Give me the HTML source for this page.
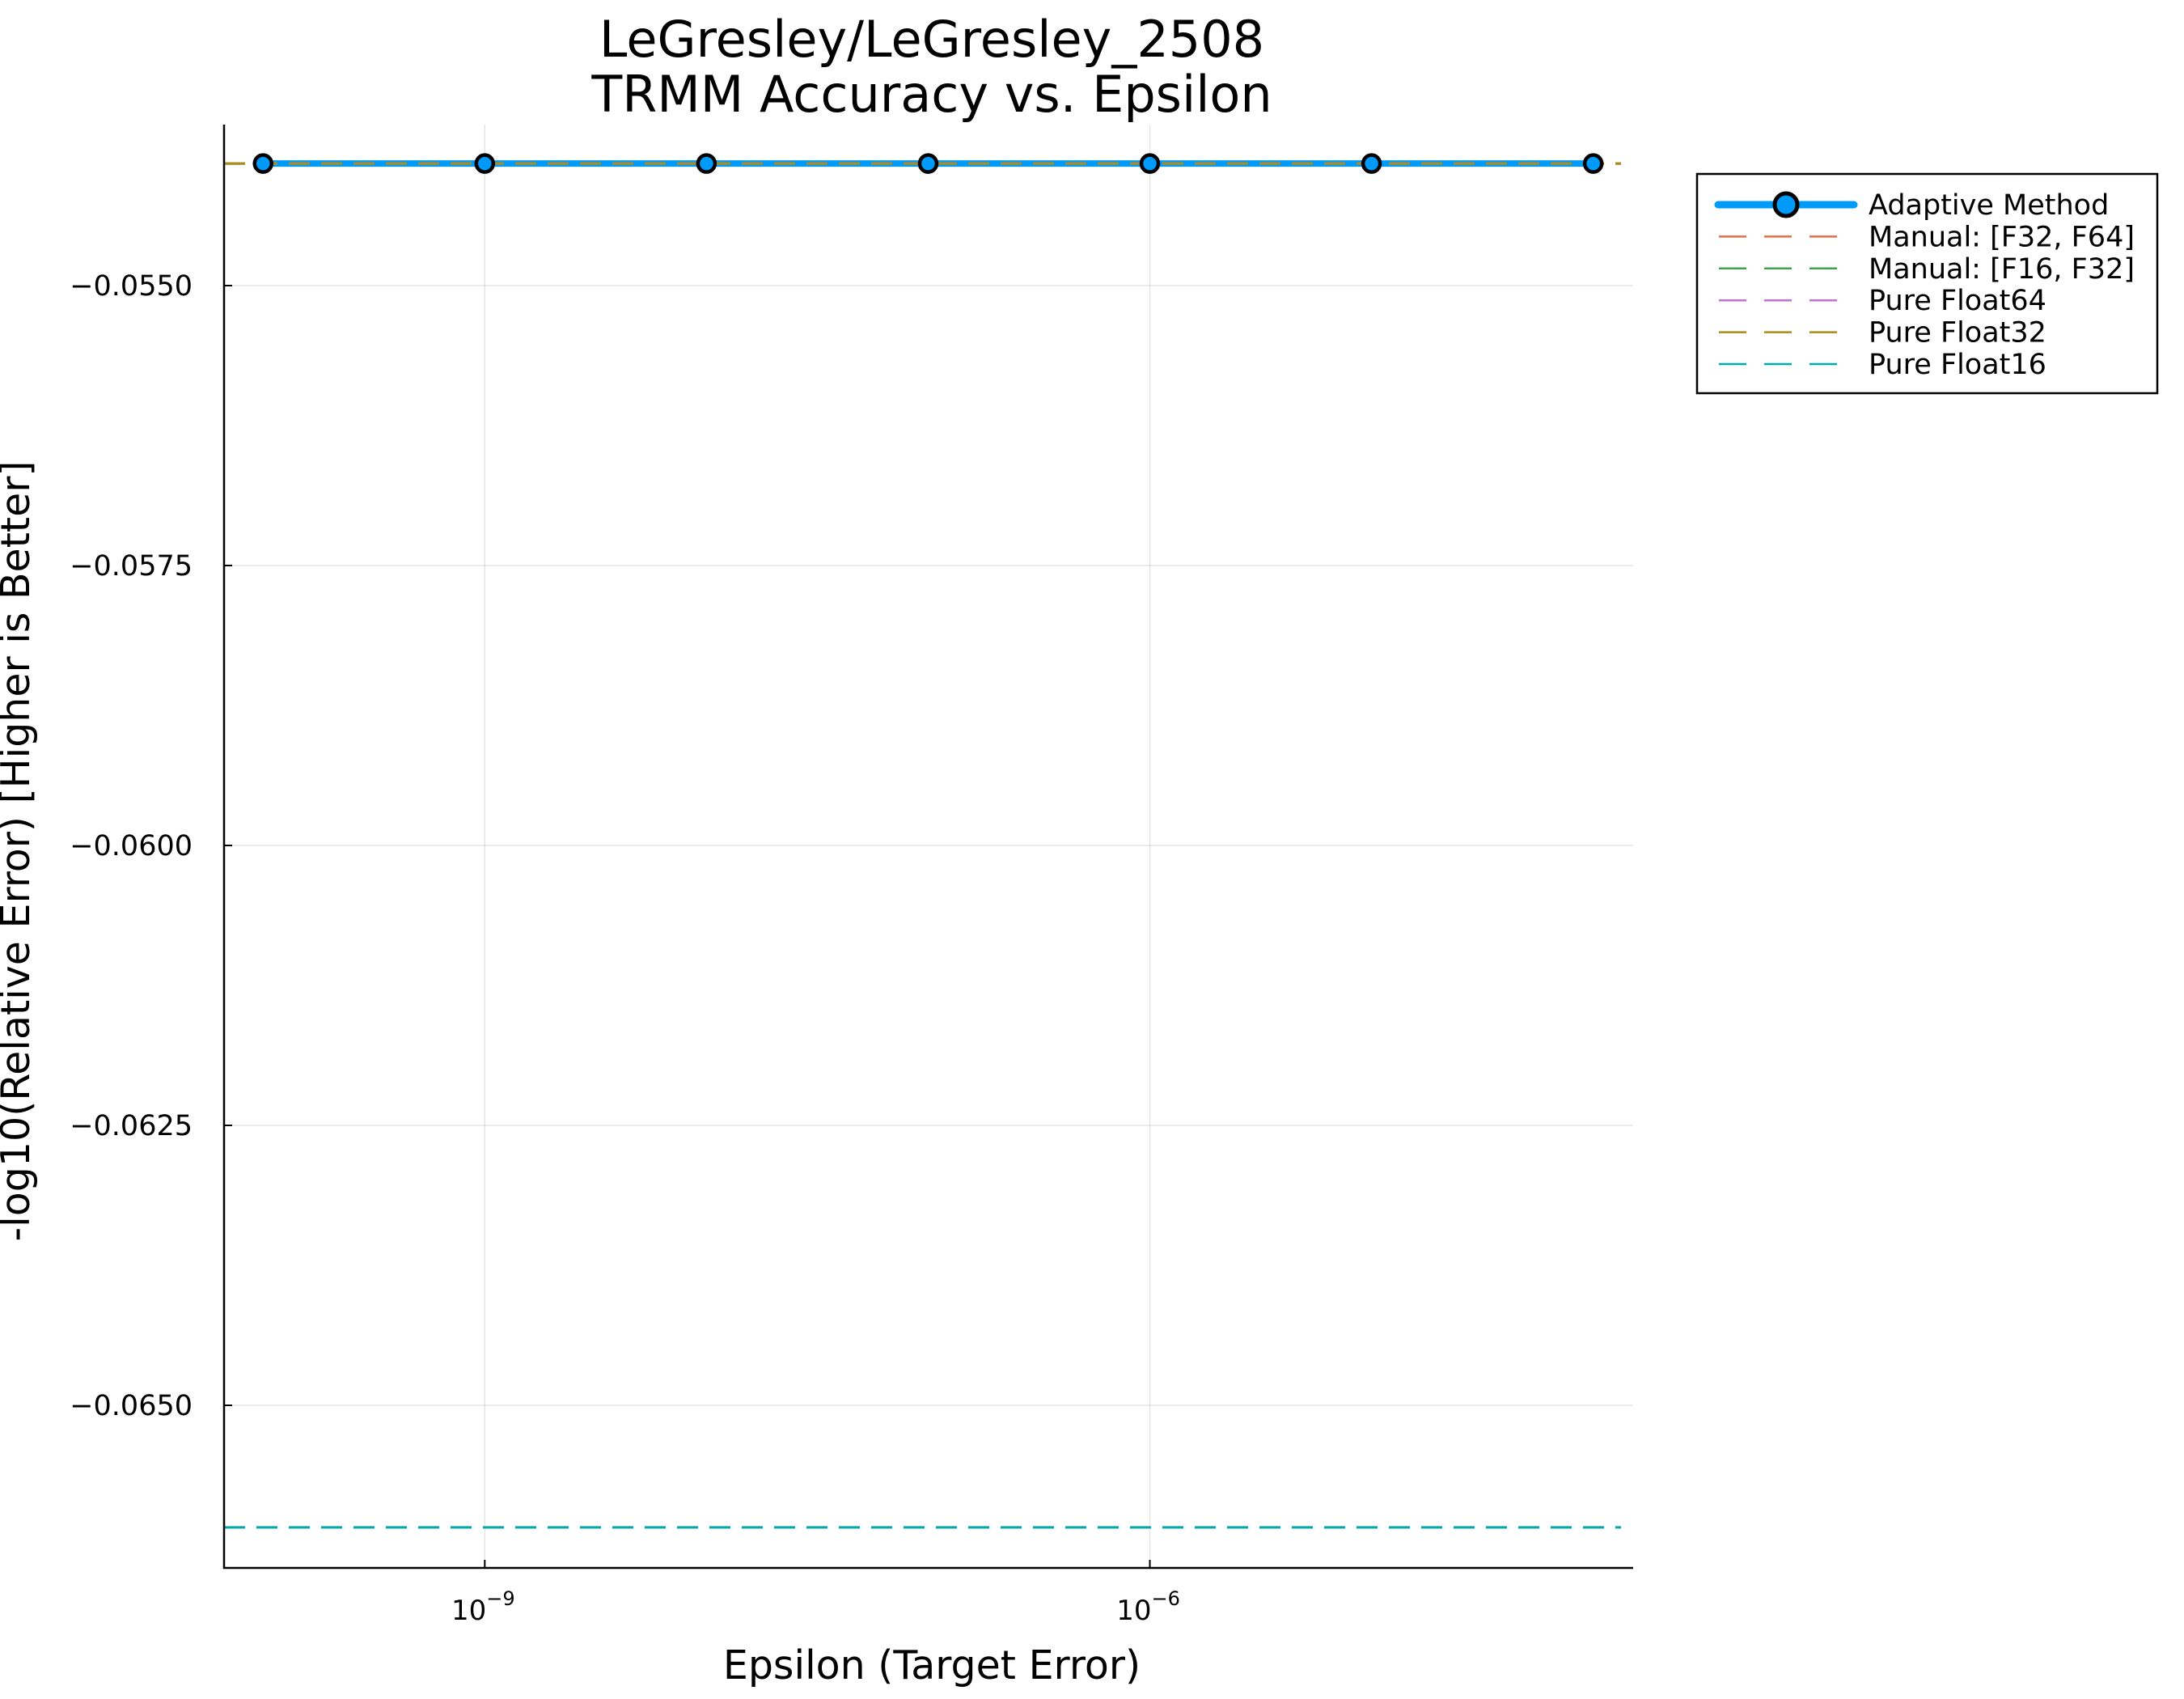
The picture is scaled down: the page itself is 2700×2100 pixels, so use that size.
<!DOCTYPE html>
<html><head><meta charset="utf-8"><style>
html,body{margin:0;padding:0;background:#fff}
svg{display:block;font-family:"DejaVu Sans","Liberation Sans",sans-serif}
</style></head><body>
<svg id="chart" width="2700" height="2100" viewBox="0 0 2700 2100">
<rect width="2700" height="2100" fill="#fff"/>
<text x="1152" y="70" font-size="62" text-anchor="middle">LeGresley/LeGresley_2508</text>
<text x="1152" y="138" font-size="62" text-anchor="middle">TRMM Accuracy vs. Epsilon</text>
<g id="grid"></g>
<g id="series"></g>
<g id="axes"></g>
<text x="1152" y="2075" font-size="49" text-anchor="middle">Epsilon (Target Error)</text>
<text transform="translate(36,1052) rotate(-90)" font-size="49" text-anchor="middle">-log10(Relative Error) [Higher is Better]</text>
<g id="legend"></g>
</svg>
<script>
const epsilons = [1e-10, 1e-9, 1e-8, 1e-7, 1e-6, 1e-5, 1e-4];
const adaptiveValues = [-0.05391, -0.05391, -0.05391, -0.05391, -0.05391, -0.05391, -0.05391];
const refNames = ["Manual: [F32, F64]", "Manual: [F16, F32]", "Pure Float64", "Pure Float32", "Pure Float16"];
const refValues = [-0.05391, -0.05391, -0.05391, -0.05391, -0.06609];
const refColors = ["#e26f46", "#3da44d", "#c271d2", "#ac8d18", "#00a9ad"];
const yTicks = [-0.0550, -0.0575, -0.0600, -0.0625, -0.0650];
const yTickLabels = ["\u22120.0550", "\u22120.0575", "\u22120.0600", "\u22120.0625", "\u22120.0650"];
const xTickExps = [-9, -6];

const NS = "http://www.w3.org/2000/svg";
const L = 277, R = 2019, T = 154, B = 1938;
const xMinLog = -10.176, xMaxLog = -3.82;
const yRef = -0.0550, yRefPx = 353, pxPerUnit = 346.0 / 0.0025;
function xs(v) { return L + (Math.log10(v) - xMinLog) / (xMaxLog - xMinLog) * (R - L); }
function xsLog(e) { return L + (e - xMinLog) / (xMaxLog - xMinLog) * (R - L); }
function ys(v) { return yRefPx - (v - yRef) * pxPerUnit; }
function mk(tag, attrs, parent) { const e = document.createElementNS(NS, tag); for (const k in attrs) e.setAttribute(k, attrs[k]); parent.appendChild(e); return e; }

const grid = document.getElementById('grid'), axes = document.getElementById('axes'), series = document.getElementById('series'), legend = document.getElementById('legend');
yTicks.forEach((t, i) => {
  const y = ys(t);
  const g = mk('line', {x1: L, x2: R, y1: y, y2: y, stroke: '#000', 'stroke-opacity': 0.1, 'stroke-width': 1.5}, grid);
  
  
  const tk = mk('line', {x1: L, x2: L + 10, y1: y, y2: y, stroke: '#000', 'stroke-width': 2}, axes);
  
  
  const tx = mk('text', {x: 238, y: y + 12, 'font-size': 35, 'text-anchor': 'end'}, axes);
  tx.textContent = yTickLabels[i];
  
  
});
xTickExps.forEach(e => {
  const x = xsLog(e);
  const g = mk('line', {x1: x, x2: x, y1: T, y2: B, stroke: '#000', 'stroke-opacity': 0.1, 'stroke-width': 1.5}, grid);
  
  
  const tk = mk('line', {x1: x, x2: x, y1: B, y2: B - 10, stroke: '#000', 'stroke-width': 2}, axes);
  
  
  const tx = mk('text', {x: x - 2, y: 2002, 'font-size': 34, 'text-anchor': 'middle'}, axes);
  tx.textContent = '10';
  const sp = mk('tspan', {dy: -18, 'font-size': 24}, tx);
  sp.textContent = '\u2212' + Math.abs(e);
  
  
});
const ax = mk('path', {d: `M${L},${T} L${L},${B} L${R},${B}`, fill: 'none', stroke: '#000', 'stroke-width': 2.5}, axes);



const pts = epsilons.map((e, i) => [xs(e), ys(adaptiveValues[i])]);
const ad = mk('polyline', {points: pts.map(p => p.join(',')).join(' '), fill: 'none', stroke: '#009afa', 'stroke-width': 8, 'stroke-linejoin': 'round'}, series);


refValues.forEach((v, i) => {
  const y = ys(v);
  const ln = mk('line', {x1: L, x2: R - 15, y1: y, y2: y, stroke: refColors[i], 'stroke-width': 3, 'stroke-dasharray': '26,14'}, series);
  
  
});
pts.forEach(p => {
  const c = mk('circle', {cx: p[0], cy: p[1], r: 10.5, fill: '#009afa', stroke: '#000', 'stroke-width': 4.5}, series);
  
  
});

const lb = mk('rect', {x: 2098, y: 215, width: 569, height: 271, fill: '#fff', stroke: '#000', 'stroke-width': 2.5}, legend);


const names = ["Adaptive Method"].concat(refNames);
names.forEach((n, i) => {
  const y = 253 + i * 39.4;
  if (i === 0) {
    const l = mk('line', {x1: 2124, x2: 2292, y1: y, y2: y, stroke: '#009afa', 'stroke-width': 9, 'stroke-linecap': 'round'}, legend);
    
    
    const c = mk('circle', {cx: 2208, cy: y, r: 14, fill: '#009afa', stroke: '#000', 'stroke-width': 5}, legend);
    
    
  } else {
    const l = mk('line', {x1: 2125, x2: 2292, y1: y, y2: y, stroke: refColors[i - 1], 'stroke-width': 2.5, 'stroke-dasharray': '34,22'}, legend);
    
    
  }
  const t = mk('text', {x: 2310, y: y + 12, 'font-size': 35}, legend);
  t.textContent = n;
  
  
});
</script>
</body></html>
